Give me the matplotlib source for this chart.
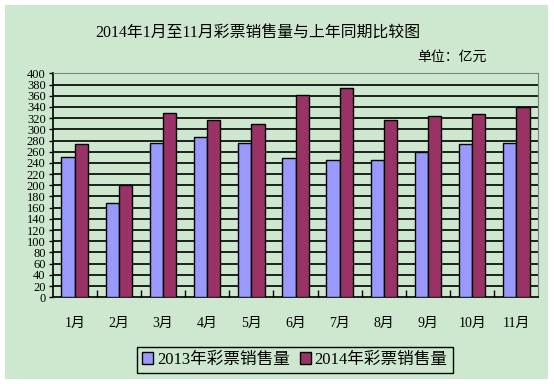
import numpy as np
import matplotlib
matplotlib.use('Agg')
import matplotlib.pyplot as plt
from matplotlib.patches import Rectangle

plt.rcParams['font.family'] = ['Liberation Serif', 'Noto Sans CJK SC']

meses = ['1月', '2月', '3月', '4月', '5月', '6月', '7月', '8月', '9月', '10月', '11月']
vendas_2013 = [250, 169, 275, 287, 275, 248, 245, 246, 259, 273, 275]
vendas_2014 = [273, 200, 329, 316, 309, 362, 373, 316, 323, 327, 340]
serie_nomes = ['2013年彩票销售量', '2014年彩票销售量']
yticks = np.arange(0, 401, 20)

verde = '#cde8cf'

fig = plt.figure(figsize=(5.54, 3.84), dpi=100)
fig.patch.set_facecolor('white')
fundo = Rectangle((5 / 554, 5 / 384), 543 / 554, 374 / 384,
                  transform=fig.transFigure, facecolor=verde,
                  edgecolor='none', zorder=-10)
fig.add_artist(fundo)

ax = fig.add_axes([0.095, 0.226, 0.877, 0.583])
ax.set_facecolor(verde)

ind = np.arange(len(meses))
width = 0.3

b1 = ax.bar(ind - width / 2, vendas_2013, width, color='#9999ff', edgecolor='black', linewidth=1, zorder=3)
b2 = ax.bar(ind + width / 2, vendas_2014, width, color='#993366', edgecolor='black', linewidth=1, zorder=3)

ax.set_xlim(-0.5, len(meses) - 0.5)
ax.set_ylim(0, 400)
ax.set_yticks(yticks)
ax.set_yticklabels([str(v) for v in yticks], fontsize=9)
for v in yticks[1:-1]:
    ax.axhline(v, color='black', linewidth=1.2, zorder=1)

ax.set_xticks(ind)
ax.set_xticklabels(meses, fontsize=10)
ax.tick_params(axis='x', length=0, pad=14)
ax.set_xticks(np.arange(0.5, len(meses) - 0.5, 1), minor=True)
ax.tick_params(axis='x', which='minor', direction='in', length=5, width=1, color='black')
ax.tick_params(axis='y', direction='out', length=3, width=1, pad=2)

ax.spines['left'].set_color('black')
ax.spines['bottom'].set_color('black')
ax.spines['left'].set_linewidth(1.2)
ax.spines['bottom'].set_linewidth(1.2)
ax.spines['top'].set_color('#808080')
ax.spines['right'].set_color('#808080')

fig.text(0.465, 0.914, '2014年1月至11月彩票销售量与上年同期比较图', ha='center', va='center', fontsize=11.4)
fig.text(0.879, 0.852, '单位：亿元', ha='right', va='center', fontsize=10)

leg = fig.legend((b1[0], b2[0]), serie_nomes, loc='center', bbox_to_anchor=(0.532, 0.0625),
                 ncol=2, fontsize=12, frameon=True, fancybox=False, facecolor=verde,
                 edgecolor='black', handlelength=0.7, handleheight=0.7, handletextpad=0.2,
                 columnspacing=0.6, borderpad=0.3)
leg.get_frame().set_linewidth(1)
leg.get_frame().set_alpha(None)

fig.savefig('out.png', dpi=100, facecolor=fig.get_facecolor())
